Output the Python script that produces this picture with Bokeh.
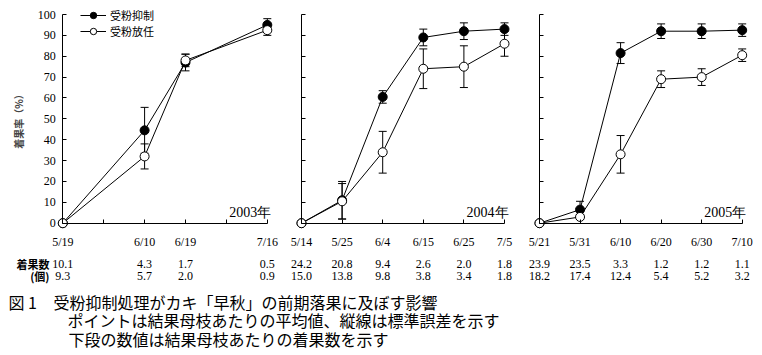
from bokeh.plotting import figure
from bokeh.models import LinearAxis, FixedTicker, Range1d, Legend, LegendItem, Label
from bokeh.layouts import column, row
from bokeh.embed import file_html
from bokeh.resources import INLINE
from bokeh.core.properties import value

# ---------------- data ----------------
series_names = ["受粉抑制", "受粉放任"]
years = ["2003年", "2004年", "2005年"]
y_title = "着果率（%）"
row_titles = ["着果数", "(個)"]
y_ticks = [0, 10, 20, 30, 40, 50, 60, 70, 80, 90, 100]

pos_2003 = [0, 2, 3, 5]
dates_2003 = ["5/19", "6/10", "6/19", "7/16"]
sup_2003 = [0, 44.5, 77, 95]
sup_err_2003 = [0, 11, 4, 3]
fre_2003 = [0, 32, 78, 92.5]
fre_err_2003 = [0, 6, 3, 2.5]
n1_2003 = ["10.1", "4.3", "1.7", "0.5"]
n2_2003 = ["9.3", "5.7", "2.0", "0.9"]

pos_2004 = [0, 1, 2, 3, 4, 5]
dates_2004 = ["5/14", "5/25", "6/4", "6/15", "6/25", "7/5"]
sup_2004 = [0, 11, 60.5, 89, 92, 93]
sup_err_2004 = [0, 9, 3, 4, 4, 3]
fre_2004 = [0, 10.5, 34, 74, 75, 86]
fre_err_2004 = [0, 8.5, 10, 9.5, 10, 6]
n1_2004 = ["24.2", "20.8", "9.4", "2.6", "2.0", "1.8"]
n2_2004 = ["15.0", "13.8", "9.8", "3.8", "3.4", "1.8"]

pos_2005 = [0, 1, 2, 3, 4, 5]
dates_2005 = ["5/21", "5/31", "6/10", "6/20", "6/30", "7/10"]
sup_2005 = [0, 6.5, 81.5, 92, 92, 92.5]
sup_err_2005 = [0, 4, 5, 3.5, 3.5, 3]
fre_2005 = [0, 3, 33, 69, 70, 80.5]
fre_err_2005 = [0, 1, 9, 4, 4, 3]
n1_2005 = ["23.9", "23.5", "3.3", "1.2", "1.2", "1.1"]
n2_2005 = ["18.2", "17.4", "12.4", "5.4", "5.2", "3.2"]

caption = [
    "図 1",
    "受粉抑制処理がカキ「早秋」の前期落果に及ぼす影響",
    "ポイントは結果母枝あたりの平均値、縦線は標準誤差を示す",
    "下段の数値は結果母枝あたりの着果数を示す",
]

# ---------------- layout constants ----------------
TOP_H = 288
CAP_H = 355 - TOP_H
Y0_PX = 222.7
Y100_PX = 14.0
KY = (Y0_PX - Y100_PX) / 100.0
Y_END = 100 + Y100_PX / KY
Y_START = -(TOP_H - Y0_PX) / KY
ROW1_Y = (Y0_PX - 263) / KY
ROW2_Y = (Y0_PX - 275.5) / KY

SERIF = "Liberation Serif"
GOTHIC = "Noto Sans CJK JP"


def make_panel(width, x0_px, dx_px, pos, dates, sup, sup_err, fre, fre_err,
               n1, n2, year, first):
    xs = -x0_px / dx_px
    xe = xs + width / dx_px
    p = figure(width=width, height=TOP_H, x_range=Range1d(xs, xe),
               y_range=Range1d(Y_START, Y_END), x_axis_type=None,
               y_axis_type=None, toolbar_location=None, output_backend="svg",
               min_border=0, outline_line_color=None,
               background_fill_color="white", border_fill_color="white")
    p.title.visible = False

    # y axis
    ya = LinearAxis(fixed_location=0, bounds=(0, 100),
                    ticker=FixedTicker(ticks=y_ticks, minor_ticks=[]),
                    major_tick_in=4, major_tick_out=0,
                    minor_tick_in=0, minor_tick_out=0,
                    axis_line_color="black", major_tick_line_color="black",
                    major_label_standoff=7,
                    major_label_text_font=SERIF,
                    major_label_text_font_size="12px",
                    major_label_text_color="black")
    if first:
        ya.axis_label = y_title
        ya.axis_label_text_font = GOTHIC
        ya.axis_label_text_font_size = "10px"
        ya.axis_label_text_font_style = "bold"
        ya.axis_label_standoff = 9
    else:
        ya.major_label_text_font_size = "0px"
        ya.major_label_text_color = None
    p.add_layout(ya, "left")

    # x axis
    overrides = {float(i): "" for i in range(6)}
    for xp, d in zip(pos, dates):
        overrides[float(xp)] = d
    xa = LinearAxis(fixed_location=0, bounds=(0, 5),
                    ticker=FixedTicker(ticks=[0, 1, 2, 3, 4, 5], minor_ticks=[]),
                    major_label_overrides=overrides,
                    major_tick_in=4, major_tick_out=0,
                    minor_tick_in=0, minor_tick_out=0,
                    axis_line_color="black", major_tick_line_color="black",
                    major_label_standoff=12,
                    major_label_text_font=SERIF,
                    major_label_text_font_size="12px",
                    major_label_text_color="black")
    p.add_layout(xa, "below")

    # lines
    l1 = p.line(pos, sup, line_color="black", line_width=1)
    l2 = p.line(pos, fre, line_color="black", line_width=1)

    # error bars
    for vals, errs in ((sup, sup_err), (fre, fre_err)):
        ex = [x for x, e in zip(pos, errs) if e > 0]
        lo = [v - e for v, e in zip(vals, errs) if e > 0]
        hi = [v + e for v, e in zip(vals, errs) if e > 0]
        p.segment(x0=ex, y0=lo, x1=ex, y1=hi, line_color="black", line_width=1)
        p.scatter(ex, lo, marker="dash", size=8, line_color="black", line_width=1)
        p.scatter(ex, hi, marker="dash", size=8, line_color="black", line_width=1)

    # markers
    m1 = p.scatter(pos, sup, marker="circle", size=9, fill_color="black",
                   line_color="black", line_width=1)
    m2 = p.scatter(pos, fre, marker="circle", size=9, fill_color="white",
                   line_color="black", line_width=1)

    # year label
    p.text(x=[5], y=[5], text=[year], text_align="right", text_baseline="middle",
           x_offset=4, text_font=value(SERIF), text_font_size="14px",
           text_color="black")

    # count rows
    p.text(x=pos, y=[ROW1_Y] * len(pos), text=n1, text_align="center",
           text_baseline="middle", text_font=value(SERIF),
           text_font_size="12px", text_color="black")
    p.text(x=pos, y=[ROW2_Y] * len(pos), text=n2, text_align="center",
           text_baseline="middle", text_font=value(SERIF),
           text_font_size="12px", text_color="black")

    if first:
        for t, yy in zip(row_titles, (ROW1_Y, ROW2_Y)):
            p.add_layout(Label(x=49, y=yy, x_units="screen", y_units="data",
                               text=t, text_align="right", text_baseline="middle",
                               text_font=GOTHIC, text_font_size="11px",
                               text_font_style="bold", text_color="black"))
        legend = Legend(items=[LegendItem(label=series_names[0], renderers=[l1, m1]),
                               LegendItem(label=series_names[1], renderers=[l2, m2])],
                        location=(80, TOP_H - 39), padding=0, margin=0, spacing=0,
                        glyph_width=26, glyph_height=16, label_height=16,
                        label_standoff=4, background_fill_alpha=0,
                        border_line_color=None, label_text_font=GOTHIC,
                        label_text_font_size="11px", label_text_color="black")
        p.add_layout(legend, "center")
    return p


f1 = make_panel(283, 62.3, 40.9, pos_2003, dates_2003, sup_2003, sup_err_2003,
                fre_2003, fre_err_2003, n1_2003, n2_2003, years[0], True)
f2 = make_panel(237, 18.0, 40.6, pos_2004, dates_2004, sup_2004, sup_err_2004,
                fre_2004, fre_err_2004, n1_2004, n2_2004, years[1], False)
f3 = make_panel(242, 19.0, 40.54, pos_2005, dates_2005, sup_2005, sup_err_2005,
                fre_2005, fre_err_2005, n1_2005, n2_2005, years[2], False)

cap = figure(width=762, height=CAP_H, x_range=Range1d(0, 762),
             y_range=Range1d(0, CAP_H), x_axis_type=None, y_axis_type=None,
             toolbar_location=None, output_backend="svg", min_border=0,
             outline_line_color=None, background_fill_color="white",
             border_fill_color="white")
cap.title.visible = False
cap_pos = [(8, 53.3), (53, 53.3), (67, 36), (68, 17)]
for t, (cx, cy) in zip(caption, cap_pos):
    cap.add_layout(Label(x=cx, y=cy, x_units="screen", y_units="screen", text=t,
                         text_baseline="middle", text_font=GOTHIC,
                         text_font_size="16px", text_color="black"))

layout = column(row(f1, f2, f3, spacing=0), cap, spacing=0)
open("out.html", "w").write(file_html(layout, INLINE))
